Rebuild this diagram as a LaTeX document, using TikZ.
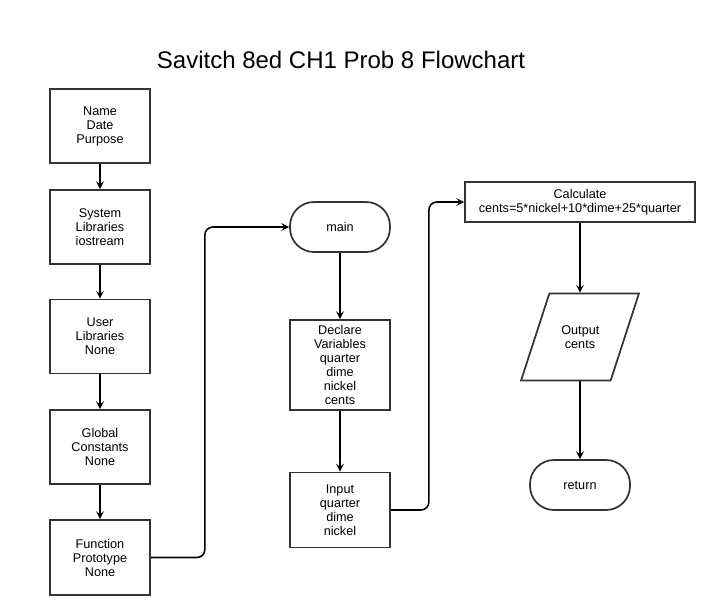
\documentclass[tikz,border=0pt]{standalone}
\usepackage{fontspec}
\setmainfont{Liberation Sans}
\usetikzlibrary{arrows.meta, positioning, shapes.geometric}

\begin{document}
\begin{tikzpicture}[x=0.75pt, y=-0.75pt,
    every node/.style={font=\fontsize{9.5}{10.5}\selectfont, align=center},
    box/.style={rectangle, draw=black!80, line width=1.3pt, minimum width=75pt, minimum height=55.5pt},
    term/.style={rectangle, rounded corners=18pt, draw=black!80, line width=1.3pt, minimum width=75pt, minimum height=37.5pt},
    io/.style={trapezium, trapezium left angle=72, trapezium right angle=108,
        draw=black!80, line width=1.3pt, text width=28pt, inner xsep=9pt, inner ysep=24pt},
    arr/.style={-{Stealth[length=6pt, width=6pt, inset=2.5pt]}, line width=1.2pt}]
    \useasboundingbox (0,0) rectangle (718,615);

    % Title
    \node[font=\fontsize{18}{21}\selectfont] (title) at (341,60) {Savitch 8ed CH1 Prob 8 Flowchart};

    % Nodes, left column
    \node[box] (head) at (100,126) {Name\\Date\\Purpose};
    \node[box] (syslib) at (100,227) {System\\Libraries\\iostream};
    \node[box] (usrlib) at (100,336.5) {User\\Libraries\\None};
    \node[box] (glob) at (100,447) {Global\\Constants\\None};
    \node[box, minimum height=56.25pt] (proto) at (100,557.5) {Function\\Prototype\\None};

    % Nodes, middle column
    \node[term] (main) at (340,227) {main};
    \node[box, minimum height=67.5pt] (decl) at (340,365) {Declare\\Variables\\quarter\\dime\\nickel\\cents};
    \node[box, minimum height=56.25pt] (input) at (340,510) {Input\\quarter\\dime\\nickel};

    % Nodes, right column
    \node[box, minimum width=172.5pt, minimum height=30pt] (calc) at (580,202) {Calculate\\cents=5*nickel+10*dime+25*quarter};
    \node[io] (out) at (580,337) {Output\\cents};
    \node[term] (ret) at (580,485) {return};

    % Connectors
    \draw[arr] (head) -- (syslib);
    \draw[arr] (syslib) -- (usrlib);
    \draw[arr] (usrlib) -- (glob);
    \draw[arr] (glob) -- (proto);
    \draw[arr, rounded corners=6pt] (proto.east) -- ++(54,0) |- (main.west);
    \draw[arr] (main) -- (decl);
    \draw[arr] (decl) -- (input);
    \draw[arr, rounded corners=6pt] (input.east) -- ++(38,0) |- (calc.west);
    \draw[arr] (calc.south) -- (calc.south |- out.north);
    \draw[arr] (ret.north |- out.south) -- (ret.north);
\end{tikzpicture}
\end{document}
